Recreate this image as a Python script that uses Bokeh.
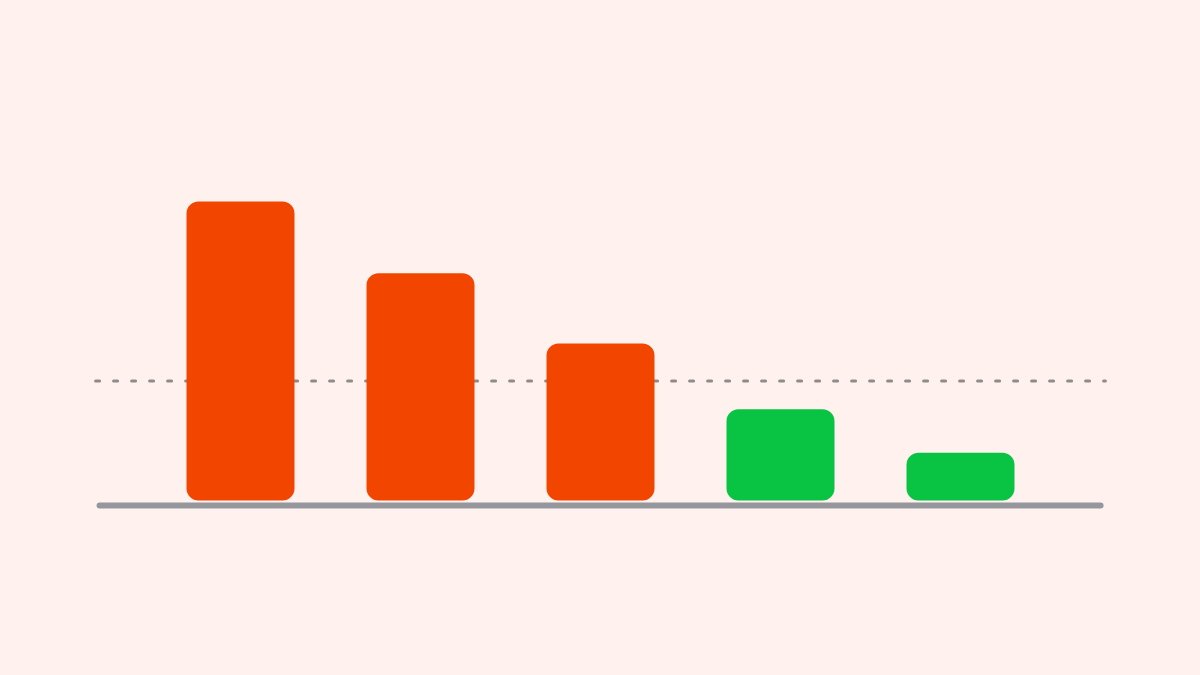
from bokeh.plotting import figure
from bokeh.models import Range1d, BoxAnnotation, GlobalInlineStyleSheet
from bokeh.embed import file_html
from bokeh.resources import INLINE

# ---- data ----
categories = ["A", "B", "C", "D", "E"]
values = [100, 76, 52.5, 30.5, 16]
threshold = 40

BG = "#FFF1EE"
ORANGE = "#F24600"
GREEN = "#09C342"

W, H = 1184, 659
p = figure(width=W, height=H, output_backend="svg", toolbar_location=None,
           x_range=Range1d(-1.3333, 5.2444), y_range=Range1d(-53.18, 167.22),
           min_border=0, outline_line_color=None,
           background_fill_color=BG, border_fill_color=BG)
p.axis.visible = False
p.grid.visible = False
p.stylesheets = [GlobalInlineStyleSheet(css=f"html, body {{ background: {BG}; }}")]

n = len(categories)
xs = list(range(n))

# threshold dashed line
p.line(x=[-0.805, n - 1 + 0.805], y=[threshold, threshold], line_color="#8F8B8B",
       line_width=3, line_dash="4 14", line_cap="round")

# baseline
p.line(x=[-0.783, n - 1 + 0.778], y=[-1.7, -1.7], line_color="#96979D",
       line_width=6, line_cap="round")

# bars
for x, v in zip(xs, values):
    c = ORANGE if v > threshold else GREEN
    p.add_layout(BoxAnnotation(left=x - 0.3, right=x + 0.3, bottom=0, top=v,
                               fill_color=c, fill_alpha=1.0, line_color=None,
                               border_radius=12))

open("out.html", "w").write(file_html(p, INLINE))
